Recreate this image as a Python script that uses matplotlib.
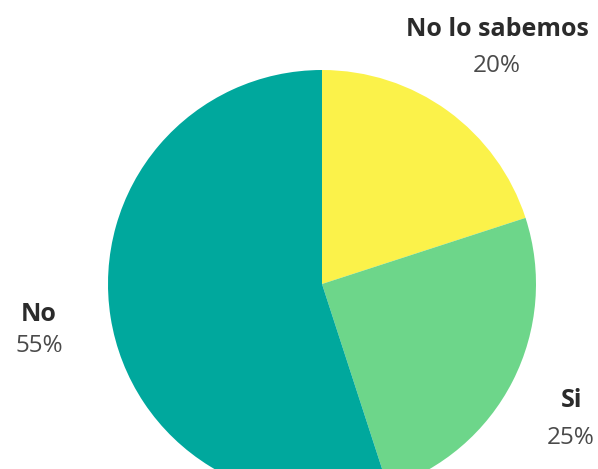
import matplotlib
matplotlib.use('Agg')
import matplotlib.pyplot as plt

LABELS = ['No lo sabemos', 'Si', 'No']
VALUES = [20, 25, 55]
COLORS = ['#FBF24A', '#6DD68A', '#00A89D']

W, H = 598, 469

plt.rcParams['font.family'] = ['Open Sans', 'DejaVu Sans']

fig = plt.figure(figsize=(W / 100, H / 100), dpi=100)
ax = fig.add_axes([0, 0, 1, 1])

ax.pie(VALUES, colors=COLORS, startangle=90, counterclock=False,
       center=(322, H - 284), radius=214, frame=True,
       wedgeprops={'linewidth': 0})
ax.set_xlim(0, W)
ax.set_ylim(0, H)
ax.set_aspect('equal')
ax.axis('off')

#label x centre and baselines in pixels from top: (x, name, percent)
label_pos = {'No lo sabemos': (497, 36, 72), 'Si': (571, 407, 444),
             'No': (39, 321, 352)}
for lab, val in zip(LABELS, VALUES):
    x, y1, y2 = label_pos[lab]
    ax.text(x, H - y1, lab, ha='center', va='baseline', fontsize=18,
            fontweight='bold', color='#2b2b2b')
    ax.text(x, H - y2, f'{val}%', ha='center', va='baseline',
            fontsize=17.5, color='#4a4a4a')

fig.savefig('out.png', dpi=100)
